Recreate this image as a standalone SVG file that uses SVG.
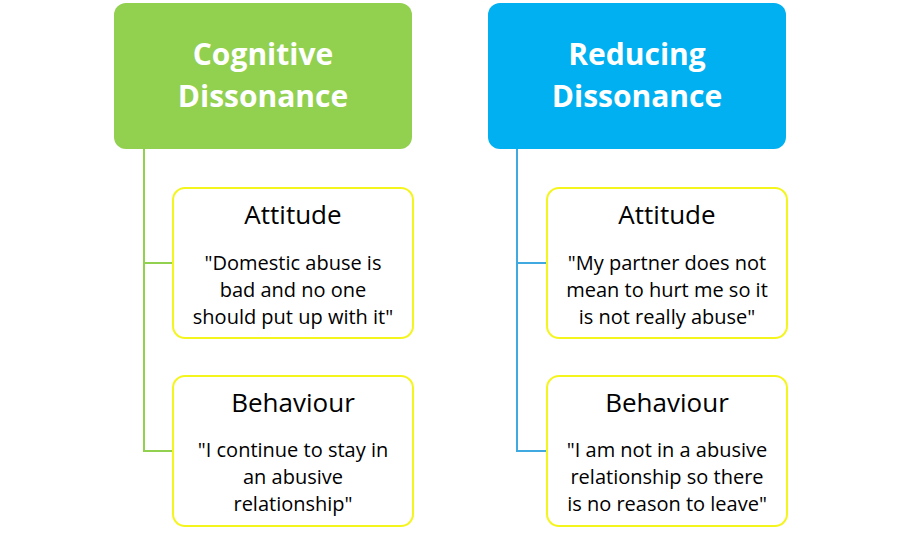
<svg xmlns="http://www.w3.org/2000/svg" width="900" height="534" viewBox="0 0 900 534">
<style>
.t{font-family:"Open Sans","Liberation Sans",sans-serif;font-weight:bold;font-size:30px;fill:#fff;text-anchor:middle}
.h{font-family:"Open Sans","Liberation Sans",sans-serif;font-size:26px;fill:#000;text-anchor:middle}
.b{font-family:"Open Sans","Liberation Sans",sans-serif;font-size:20px;fill:#000;text-anchor:middle}
.c{fill:#fff;stroke:#F5F51E;stroke-width:2}
</style>
<rect width="900" height="534" fill="#fff"/>
<g id="connectors" fill="none" stroke-width="2">
<path d="M144 149V451H173M144 263H173" stroke="#92D050"/>
<path d="M517 149V451H547M517 263H547" stroke="#3FA9E0"/>
</g>
<g id="cog"><rect x="114" y="3" width="298" height="146" rx="12" fill="#92D050"/>
<text class="t" x="263" y="65">Cognitive</text><text class="t" x="263" y="107">Dissonance</text></g>
<g id="red"><rect x="488" y="3" width="298" height="146" rx="12" fill="#00B0F0"/>
<text class="t" x="637" y="65">Reducing</text><text class="t" x="637" y="107">Dissonance</text></g>
<g id="att1"><rect class="c" x="173" y="188" width="240" height="150" rx="12"/>
<text class="h" x="293" y="224">Attitude</text>
<text class="b" x="293" y="270">"Domestic abuse is</text><text class="b" x="293" y="297">bad and no one</text><text class="b" x="293" y="324">should put up with it"</text></g>
<g id="beh1"><rect class="c" x="173" y="376" width="240" height="150" rx="12"/>
<text class="h" x="293" y="412">Behaviour</text>
<text class="b" x="293" y="457">"I continue to stay in</text><text class="b" x="293" y="484">an abusive</text><text class="b" x="293" y="511">relationship"</text></g>
<g id="att2"><rect class="c" x="547" y="188" width="240" height="150" rx="12"/>
<text class="h" x="667" y="224">Attitude</text>
<text class="b" x="667" y="270">"My partner does not</text><text class="b" x="667" y="297">mean to hurt me so it</text><text class="b" x="667" y="324">is not really abuse"</text></g>
<g id="beh2"><rect class="c" x="547" y="376" width="240" height="150" rx="12"/>
<text class="h" x="667" y="412">Behaviour</text>
<text class="b" x="667" y="457">"I am not in a abusive</text><text class="b" x="667" y="484">relationship so there</text><text class="b" x="667" y="511">is no reason to leave"</text></g>
</svg>
